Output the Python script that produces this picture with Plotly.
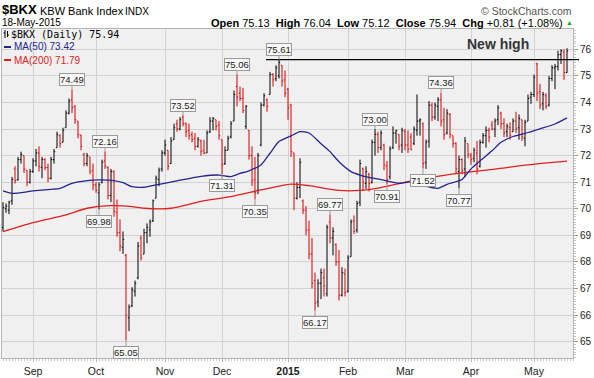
import plotly.graph_objects as go

# ---------------- data ----------------
opens = [69.30, 70.00, 69.95, 70.30, 71.50, 71.10, 71.85, 72.00, 71.45, 71.00,
         71.40, 71.80, 72.10, 71.55, 71.85, 71.55, 71.15, 71.85, 72.30, 72.75,
         72.50, 73.05, 73.60, 74.10, 73.85, 73.30, 72.75, 72.05, 71.70, 71.95,
         71.45, 70.90, 70.60, 71.00, 71.80, 71.55, 70.50, 71.40, 69.85, 69.10,
         68.55, 68.25, 65.90, 66.35, 66.90, 67.40, 68.90, 68.30, 69.10, 69.20,
         69.55, 70.40, 71.10, 71.50, 72.10, 72.20, 71.70, 72.60, 73.20, 73.00,
         73.45, 73.20, 72.95, 72.80, 72.65, 72.35, 72.55, 72.20, 72.10, 72.90,
         73.30, 73.35, 73.15, 72.60, 71.70, 72.20, 72.70, 73.30, 74.60, 74.35,
         74.15, 73.10, 72.95, 72.00, 71.10, 70.70, 72.40, 73.90, 74.10, 74.30,
         75.05, 74.90, 75.00, 75.40, 74.85, 74.50, 73.90, 72.10, 70.40, 70.80,
         70.30, 69.95, 69.20, 68.30, 67.30, 66.50, 67.20, 67.40, 66.80, 69.50,
         68.90, 68.65, 68.00, 66.75, 67.55, 66.90, 68.20, 69.55, 69.20, 70.25,
         71.50, 70.95, 71.30, 71.00, 72.50, 72.80, 72.30, 72.40, 71.60, 71.20,
         72.30, 72.85, 72.80, 72.40, 72.90, 72.40, 72.70, 72.45, 72.95, 73.30,
         73.20, 71.75, 72.55, 73.90, 73.45, 73.85, 74.10, 73.35, 72.85, 73.55,
         72.75, 72.45, 71.40, 71.85, 71.50, 72.45, 72.00, 71.90, 72.10, 71.60,
         72.50, 72.75, 72.95, 73.15, 73.00, 73.35, 73.60, 73.20, 72.90, 73.05,
         72.90, 73.30, 73.05, 73.35, 72.65, 73.30, 74.20, 74.30, 75.45, 74.40,
         73.95, 74.25, 73.90, 74.90, 75.30, 75.35, 75.80, 75.90, 75.13]
highs = [70.25, 70.20, 70.30, 71.20, 71.60, 71.95, 72.15, 72.00, 71.45, 71.50,
         71.90, 72.25, 72.35, 71.95, 71.90, 71.70, 71.95, 72.25, 72.90, 72.80,
         73.05, 73.70, 74.15, 74.49, 73.90, 73.30, 72.80, 72.10, 72.10, 71.95,
         71.70, 71.00, 71.00, 71.85, 72.16, 71.60, 71.50, 71.45, 70.35, 69.60,
         69.15, 68.30, 66.40, 67.05, 67.30, 68.75, 69.00, 69.25, 69.45, 69.60,
         70.35, 71.25, 71.55, 72.20, 72.60, 72.20, 72.70, 73.20, 73.35, 73.45,
         73.52, 73.25, 73.20, 72.90, 72.85, 72.70, 72.60, 72.60, 72.95, 73.45,
         73.45, 73.35, 73.30, 72.60, 72.35, 72.75, 73.30, 74.45, 75.06, 74.60,
         74.55, 73.90, 72.96, 72.35, 71.95, 72.10, 74.00, 74.35, 74.15, 75.15,
         75.10, 75.40, 75.61, 75.40, 75.20, 74.55, 73.95, 72.10, 71.00, 71.90,
         70.35, 70.10, 69.55, 68.90, 67.60, 67.35, 67.75, 67.75, 69.40, 69.77,
         69.30, 68.70, 68.45, 67.80, 67.75, 68.25, 69.60, 69.75, 70.30, 71.85,
         71.55, 71.60, 71.35, 72.60, 73.00, 72.90, 72.95, 72.45, 71.80, 72.35,
         73.10, 72.97, 72.80, 73.05, 73.00, 72.95, 72.84, 73.10, 74.30, 73.40,
         73.25, 72.60, 74.05, 74.00, 74.00, 74.20, 74.36, 73.80, 73.75, 73.60,
         72.75, 72.50, 72.00, 71.90, 72.70, 72.45, 72.10, 72.30, 72.55, 72.60,
         72.85, 73.10, 73.05, 73.30, 73.40, 73.90, 73.65, 73.40, 73.20, 73.25,
         73.40, 73.65, 73.55, 73.35, 73.35, 74.30, 74.40, 75.05, 75.50, 74.70,
         74.40, 74.35, 75.00, 75.40, 75.45, 75.95, 76.00, 76.00, 76.04]
lows = [69.15, 69.85, 69.80, 70.15, 70.95, 71.05, 71.70, 71.35, 70.85, 70.95,
        71.35, 71.60, 71.40, 71.15, 71.45, 71.00, 71.10, 71.70, 72.30, 72.30,
        72.50, 73.05, 73.55, 73.60, 73.20, 72.65, 72.20, 71.60, 71.60, 71.30,
        70.70, 70.60, 69.98, 70.95, 71.50, 70.35, 70.25, 69.70, 68.95, 68.40,
        68.30, 65.05, 65.40, 66.30, 66.70, 67.35, 68.05, 68.30, 68.70, 68.95,
        69.50, 70.40, 70.85, 71.40, 72.00, 71.45, 71.70, 72.60, 72.90, 72.95,
        73.10, 72.70, 72.60, 72.50, 72.20, 72.30, 72.00, 72.05, 72.10, 72.85,
        72.95, 72.95, 72.60, 71.31, 71.65, 72.20, 72.65, 73.30, 73.85, 74.05,
        73.60, 73.00, 71.85, 70.85, 70.35, 70.55, 72.35, 73.85, 73.65, 74.30,
        74.60, 74.80, 74.90, 74.60, 74.20, 73.35, 71.95, 69.95, 70.35, 70.40,
        69.80, 69.00, 68.10, 67.00, 66.17, 66.30, 66.60, 66.70, 66.70, 68.70,
        68.25, 67.85, 66.55, 66.70, 66.70, 66.85, 68.20, 69.05, 69.10, 70.10,
        70.70, 70.75, 70.65, 70.95, 72.00, 72.10, 72.20, 71.45, 70.91, 71.10,
        72.25, 72.45, 72.20, 72.10, 72.20, 72.10, 72.21, 72.40, 72.75, 72.75,
        71.52, 71.50, 72.30, 73.30, 73.35, 73.30, 73.10, 72.60, 72.80, 72.65,
        72.30, 71.30, 70.77, 71.30, 71.20, 71.90, 71.65, 71.75, 71.30, 71.55,
        72.45, 72.30, 72.50, 72.95, 72.70, 73.15, 73.00, 72.70, 72.70, 72.60,
        72.90, 72.85, 72.60, 72.55, 72.35, 73.30, 73.95, 74.20, 74.05, 73.75,
        73.70, 73.75, 73.85, 74.80, 74.50, 75.20, 75.45, 74.85, 75.12]
closes = [70.05, 70.10, 70.25, 71.10, 71.05, 71.85, 72.05, 71.50, 71.00, 71.40,
          71.80, 72.10, 71.60, 71.85, 71.55, 71.15, 71.85, 72.15, 72.80, 72.45,
          72.95, 73.60, 74.05, 73.80, 73.35, 72.80, 72.35, 71.70, 72.00, 71.40,
          70.90, 70.70, 70.90, 71.75, 71.60, 70.50, 71.40, 69.90, 69.10, 68.60,
          68.85, 66.00, 66.30, 66.95, 67.20, 68.60, 68.15, 69.10, 69.30, 69.50,
          70.30, 71.15, 71.45, 72.10, 72.40, 71.60, 72.55, 73.05, 73.00, 73.35,
          73.20, 72.90, 72.75, 72.60, 72.35, 72.60, 72.15, 72.10, 72.85, 73.30,
          73.40, 73.10, 72.75, 71.65, 72.20, 72.65, 73.20, 74.30, 74.20, 74.15,
          73.70, 73.85, 72.00, 71.05, 70.60, 72.00, 73.90, 74.25, 73.85, 75.05,
          74.85, 75.30, 75.50, 74.80, 74.35, 73.80, 72.15, 70.40, 70.80, 71.75,
          69.95, 69.20, 68.30, 67.20, 66.45, 67.20, 67.60, 67.10, 69.30, 68.90,
          69.15, 68.00, 66.75, 67.60, 66.85, 68.15, 69.50, 69.15, 70.20, 71.70,
          71.00, 71.40, 70.95, 72.50, 72.80, 72.30, 72.85, 71.65, 71.10, 72.25,
          72.85, 72.95, 72.35, 72.95, 72.40, 72.25, 72.22, 73.00, 73.30, 73.35,
          71.70, 72.50, 73.90, 73.45, 73.90, 74.10, 73.30, 72.80, 73.60, 72.80,
          72.45, 71.50, 71.85, 71.45, 72.55, 72.05, 71.85, 72.20, 71.50, 72.50,
          72.75, 72.95, 72.70, 73.00, 73.30, 73.80, 73.20, 72.85, 73.10, 72.75,
          73.30, 73.00, 73.40, 72.70, 73.25, 74.15, 74.30, 74.95, 74.35, 73.90,
          74.30, 73.85, 74.90, 75.30, 75.35, 75.80, 75.95, 75.13, 75.94]

ma50_idx = [0, 3, 10, 16, 19, 23, 28, 32, 37, 40, 43, 47, 52, 58, 66, 72, 76, 79,
            82, 86, 89, 92, 96, 99, 102, 106, 109, 112, 116, 119, 122, 126, 129,
            132, 137, 141, 145, 148, 153, 156, 159, 163, 166, 170, 175, 179, 184, 188]
ma50_val = [70.67, 70.58, 70.67, 70.73, 70.77, 70.96, 71.06, 71.09, 71.06, 70.98,
            70.83, 70.81, 70.92, 71.05, 71.22, 71.27, 71.21, 71.33, 71.43, 71.65,
            72.09, 72.53, 72.74, 72.90, 72.85, 72.45, 72.15, 71.77, 71.40, 71.27,
            71.18, 71.10, 71.02, 70.96, 71.02, 70.85, 70.77, 70.92, 71.10, 71.50,
            71.80, 72.18, 72.50, 72.72, 72.87, 73.01, 73.19, 73.42]
ma200_idx = [0, 10, 21, 28, 36, 43, 47, 56, 66, 76, 86, 96, 102, 112, 119, 126,
             132, 141, 153, 164, 175, 188]
ma200_val = [69.14, 69.48, 69.77, 70.02, 70.12, 70.08, 70.02, 70.02, 70.28, 70.46,
             70.71, 70.93, 70.87, 70.69, 70.69, 70.80, 70.95, 71.15, 71.35, 71.49,
             71.65, 71.79]

month_idx = [10, 31, 54, 73, 95, 115, 134, 156, 177]
month_lbl = ["Sep", "Oct", "Nov", "Dec", "<b>2015</b>", "Feb", "Mar", "Apr", "May"]

peak_idx = [23, 34, 60, 78, 92, 109, 124, 146]
trough_idx = [32, 41, 73, 84, 104, 128, 140, 152]

hdr_open, hdr_high, hdr_low, hdr_close = 75.13, 76.04, 75.12, 75.94
hdr_chg, hdr_pct = 0.81, 1.08

# ---------------- geometry helpers (pixel -> paper) ----------------
PL, PR, PT, PB = 2, 573, 29, 358
def fx(p):
    return (p - PL) / (PR - PL)
def fy(p):
    return (PB - p) / (PB - PT)

SANS = "Liberation Sans, Arial, sans-serif"
RED = "#e00000"
BLUE = "#24248e"
MARED = "#e0201c"

fig = go.Figure()
fig.add_trace(go.Ohlc(
    x=list(range(len(opens))), open=opens, high=highs, low=lows, close=closes,
    increasing=dict(line=dict(color="black", width=1)),
    decreasing=dict(line=dict(color=RED, width=1)),
    tickwidth=0.4, hoverinfo="skip"))
fig.add_trace(go.Scatter(x=ma200_idx, y=ma200_val, mode="lines",
                         line=dict(color=MARED, width=1.3, shape="spline", smoothing=0.6),
                         hoverinfo="skip"))
fig.add_trace(go.Scatter(x=ma50_idx, y=ma50_val, mode="lines",
                         line=dict(color=BLUE, width=1.3, shape="spline", smoothing=0.6),
                         hoverinfo="skip"))

ann = []
# extreme labels
for i in peak_idx:
    ann.append(dict(x=i, y=highs[i], xref="x", yref="y", text="%.2f" % highs[i],
                    showarrow=True, ax=0, ay=-10, arrowhead=0, arrowwidth=1,
                    arrowcolor="#9a9a9a", bordercolor="#9a9a9a", borderwidth=1,
                    borderpad=0, bgcolor="#f8f8f8",
                    font=dict(family=SANS, size=9.5, color="#222")))
for i in trough_idx:
    ann.append(dict(x=i, y=lows[i], xref="x", yref="y", text="%.2f" % lows[i],
                    showarrow=True, ax=0, ay=12, arrowhead=0, arrowwidth=1,
                    arrowcolor="#9a9a9a", bordercolor="#9a9a9a", borderwidth=1,
                    borderpad=0, bgcolor="#f8f8f8",
                    font=dict(family=SANS, size=9.5, color="#222")))

def txt(x, y, text, size, color="black", anchor="left", family=SANS):
    ann.append(dict(x=fx(x), y=fy(y), xref="paper", yref="paper", text=text,
                    showarrow=False, xanchor=anchor, yanchor="middle",
                    font=dict(family=family, size=size, color=color)))

txt(0, 10, "<b>$BKX</b>", 13)
txt(38, 11, "KBW Bank Index", 11)
txt(123, 11, "INDX", 10)
txt(0, 23, "18-May-2015", 10)
txt(574, 11, "\u00a9 StockCharts.com", 10.5, color="#555", anchor="right")
txt(565, 23, "<b>Open</b> %.2f  <b>High</b> %.2f  <b>Low</b> %.2f  <b>Close</b> %.2f  <b>Chg</b> +%.2f (+%.2f%%)"
    % (hdr_open, hdr_high, hdr_low, hdr_close, hdr_chg, hdr_pct), 11, anchor="right")
txt(564, 22, "\u25b2", 7, color="#1faa1f")
txt(9, 34.5, "$BKX (Daily) %.2f" % closes[-1], 10, family="DejaVu Sans Mono, monospace")
txt(12, 47, "MA(50) %.2f" % ma50_val[-1], 10, color=BLUE)
txt(12, 60, "MA(200) %.2f" % ma200_val[-1], 10, color=MARED)
ann.append(dict(x=fx(498), y=fy(44.5), xref="paper", yref="paper", text="<b>New high</b>",
                showarrow=False, xanchor="center", yanchor="middle",
                font=dict(family=SANS, size=14, color="#333")))

shapes = [
    dict(type="line", xref="paper", yref="y", x0=fx(266), x1=fx(579),
         y0=highs[92], y1=highs[92], line=dict(color="black", width=1.3)),
    dict(type="line", xref="paper", yref="paper", x0=fx(4), x1=fx(11), y0=fy(47), y1=fy(47),
         line=dict(color=BLUE, width=2)),
    dict(type="line", xref="paper", yref="paper", x0=fx(4), x1=fx(11), y0=fy(60), y1=fy(60),
         line=dict(color=MARED, width=2)),
    # tiny OHLC legend glyph
    dict(type="line", xref="paper", yref="paper", x0=fx(5), x1=fx(5), y0=fy(30), y1=fy(38),
         line=dict(color="black", width=1)),
    dict(type="line", xref="paper", yref="paper", x0=fx(3.5), x1=fx(5), y0=fy(33), y1=fy(33),
         line=dict(color="black", width=1)),
    dict(type="line", xref="paper", yref="paper", x0=fx(7.5), x1=fx(7.5), y0=fy(31), y1=fy(37),
         line=dict(color="black", width=1)),
    dict(type="line", xref="paper", yref="paper", x0=fx(7.5), x1=fx(9), y0=fy(35), y1=fy(35),
         line=dict(color="black", width=1)),
]

fig.update_layout(
    width=594, height=378,
    margin=dict(l=PL, r=594 - PR, t=PT, b=378 - PB),
    paper_bgcolor="white", plot_bgcolor="#f0f0f0",
    showlegend=False,
    annotations=ann, shapes=shapes,
    xaxis=dict(range=[-0.333, 190], tickmode="array", tickvals=month_idx, ticktext=month_lbl,
               showgrid=True, gridcolor="#d2d2d2", gridwidth=1, zeroline=False,
               rangeslider=dict(visible=False), showline=True, linecolor="#b5b5b5",
               mirror=True, ticks="outside", ticklen=3, tickcolor="#b5b5b5",
               tickfont=dict(family=SANS, size=10.5, color="#222"),
               minor=dict(dtick=1, tick0=0, ticks="outside", ticklen=2,
                          tickcolor="#c4c4c4", showgrid=False)),
    yaxis=dict(side="right", range=[64.386, 76.764], tick0=0, dtick=1,
               showgrid=True, gridcolor="#d2d2d2", gridwidth=1, zeroline=False,
               showline=True, linecolor="#b5b5b5", mirror=True,
               ticks="outside", ticklen=4, tickcolor="#999",
               tickfont=dict(family=SANS, size=10, color="#222"),
               minor=dict(dtick=0.1, tick0=0, ticks="outside", ticklen=2,
                          tickcolor="#c4c4c4", showgrid=False)),
)

fig.write_html("out.html", config={"displayModeBar": False},
               post_script="document.body.style.margin='0';document.body.style.padding='0';")
